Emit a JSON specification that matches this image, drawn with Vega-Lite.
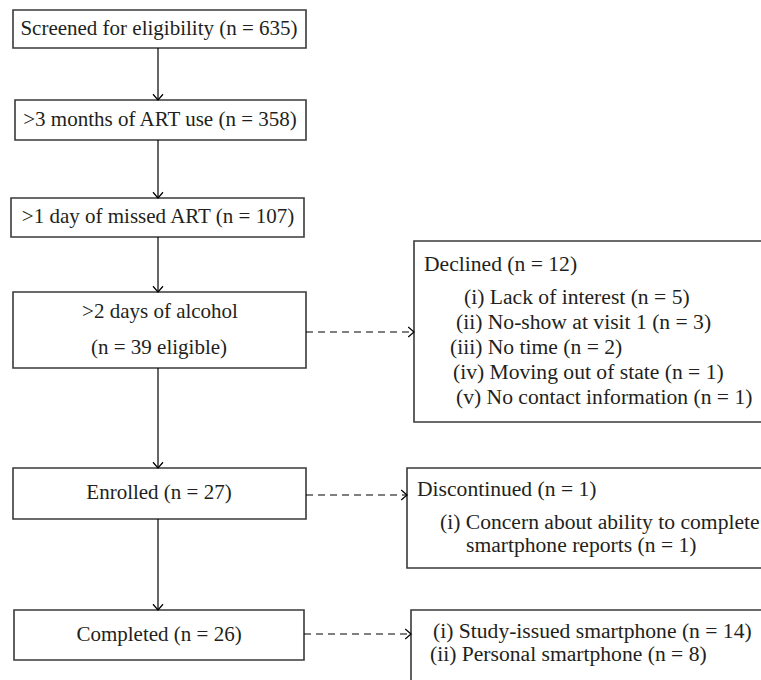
{
  "$schema": "https://vega.github.io/schema/vega-lite/v6.json",
  "width": 761,
  "height": 680,
  "autosize": {"type": "fit", "contains": "padding"},
  "padding": 0,
  "background": "white",
  "config": {"view": {"stroke": null}},
  "datasets": {
    "boxes": [
      {"box": "Screened", "x1": 13, "x2": 306, "y1": 10, "y2": 48},
      {"box": "ART use", "x1": 15, "x2": 306, "y1": 100, "y2": 140},
      {"box": "Missed ART", "x1": 11, "x2": 304, "y1": 198, "y2": 237},
      {"box": "Alcohol", "x1": 13, "x2": 306, "y1": 292, "y2": 368},
      {"box": "Declined", "x1": 414, "x2": 766, "y1": 241, "y2": 422},
      {"box": "Enrolled", "x1": 13, "x2": 306, "y1": 468, "y2": 519},
      {"box": "Discontinued", "x1": 407, "x2": 766, "y1": 468, "y2": 568},
      {"box": "Completed", "x1": 14, "x2": 304, "y1": 610, "y2": 660},
      {"box": "Smartphone", "x1": 411, "x2": 766, "y1": 610, "y2": 690}
    ],
    "solid": [
      {"x1": 158, "y1": 48, "x2": 158, "y2": 100},
      {"x1": 158, "y1": 140, "x2": 158, "y2": 198},
      {"x1": 158, "y1": 237, "x2": 158, "y2": 292},
      {"x1": 158, "y1": 368, "x2": 158, "y2": 468},
      {"x1": 158, "y1": 519, "x2": 158, "y2": 610}
    ],
    "dashed": [
      {"x1": 306, "y1": 332, "x2": 413, "y2": 332},
      {"x1": 306, "y1": 495, "x2": 406, "y2": 495},
      {"x1": 304, "y1": 634, "x2": 410, "y2": 634}
    ],
    "heads": [
      {"x": 158, "y": 100, "dir": "down"},
      {"x": 158, "y": 198, "dir": "down"},
      {"x": 158, "y": 292, "dir": "down"},
      {"x": 158, "y": 468, "dir": "down"},
      {"x": 158, "y": 610, "dir": "down"},
      {"x": 414, "y": 332, "dir": "right"},
      {"x": 407, "y": 495, "dir": "right"},
      {"x": 411, "y": 634, "dir": "right"}
    ],
    "center": [
      {"label": "Screened for eligibility (n = 635)", "x": 159, "y": 29},
      {"label": ">3 months of ART use (n = 358)", "x": 160, "y": 120},
      {"label": ">1 day of missed ART (n = 107)", "x": 158, "y": 217},
      {"label": ">2 days of alcohol", "x": 160, "y": 312},
      {"label": "(n = 39 eligible)", "x": 159, "y": 348},
      {"label": "Enrolled (n = 27)", "x": 159, "y": 493},
      {"label": "Completed (n = 26)", "x": 159, "y": 635}
    ],
    "left": [
      {"label": "Declined (n = 12)", "x": 424, "y": 265},
      {"label": "(i) Lack of interest (n = 5)", "x": 464, "y": 298},
      {"label": "(ii) No-show at visit 1 (n = 3)", "x": 456, "y": 323},
      {"label": "(iii) No time (n = 2)", "x": 450, "y": 348},
      {"label": "(iv) Moving out of state (n = 1)", "x": 453, "y": 373},
      {"label": "(v) No contact information (n = 1)", "x": 456, "y": 398},
      {"label": "Discontinued (n = 1)", "x": 417, "y": 490},
      {"label": "(i) Concern about ability to complete", "x": 440, "y": 523},
      {"label": "smartphone reports (n = 1)", "x": 466, "y": 546},
      {"label": "(i) Study-issued smartphone (n = 14)", "x": 433, "y": 632},
      {"label": "(ii) Personal smartphone (n = 8)", "x": 430, "y": 655}
    ]
  },
  "layer": [
    {
      "data": {"name": "boxes"},
      "mark": {"type": "rect", "fill": "white", "stroke": "#3a3a3a", "strokeWidth": 1.6, "clip": true},
      "encoding": {
        "x": {"field": "x1", "type": "quantitative", "scale": {"domain": [0, 761], "nice": false, "zero": false}, "axis": null},
        "x2": {"field": "x2"},
        "y": {"field": "y1", "type": "quantitative", "scale": {"domain": [0, 680], "nice": false, "zero": false, "reverse": true}, "axis": null},
        "y2": {"field": "y2"}
      }
    },
    {
      "data": {"name": "solid"},
      "mark": {"type": "rule", "color": "black", "strokeWidth": 1.2},
      "encoding": {
        "x": {"field": "x1", "type": "quantitative"},
        "x2": {"field": "x2"},
        "y": {"field": "y1", "type": "quantitative"},
        "y2": {"field": "y2"}
      }
    },
    {
      "data": {"name": "dashed"},
      "mark": {"type": "rule", "color": "black", "strokeWidth": 1.2, "strokeDash": [7, 5]},
      "encoding": {
        "x": {"field": "x1", "type": "quantitative"},
        "x2": {"field": "x2"},
        "y": {"field": "y1", "type": "quantitative"},
        "y2": {"field": "y2"}
      }
    },
    {
      "data": {"name": "heads"},
      "mark": {"type": "point", "filled": false, "stroke": "black", "strokeWidth": 1.2, "opacity": 1, "size": 100},
      "encoding": {
        "x": {"field": "x", "type": "quantitative"},
        "y": {"field": "y", "type": "quantitative"},
        "shape": {"field": "dir", "type": "nominal", "scale": {"domain": ["down", "right"], "range": ["M-1,-1.15L0,0L1,-1.15", "M-1.15,-1L0,0L-1.15,1"]}, "legend": null}
      }
    },
    {
      "data": {"name": "center"},
      "mark": {"type": "text", "font": "Liberation Serif", "fontSize": 21, "align": "center", "baseline": "middle", "color": "#231f20"},
      "encoding": {
        "x": {"field": "x", "type": "quantitative"},
        "y": {"field": "y", "type": "quantitative"},
        "text": {"field": "label"}
      }
    },
    {
      "data": {"name": "left"},
      "mark": {"type": "text", "font": "Liberation Serif", "fontSize": 21.6, "align": "left", "baseline": "middle", "color": "#231f20"},
      "encoding": {
        "x": {"field": "x", "type": "quantitative"},
        "y": {"field": "y", "type": "quantitative"},
        "text": {"field": "label"}
      }
    }
  ]
}
